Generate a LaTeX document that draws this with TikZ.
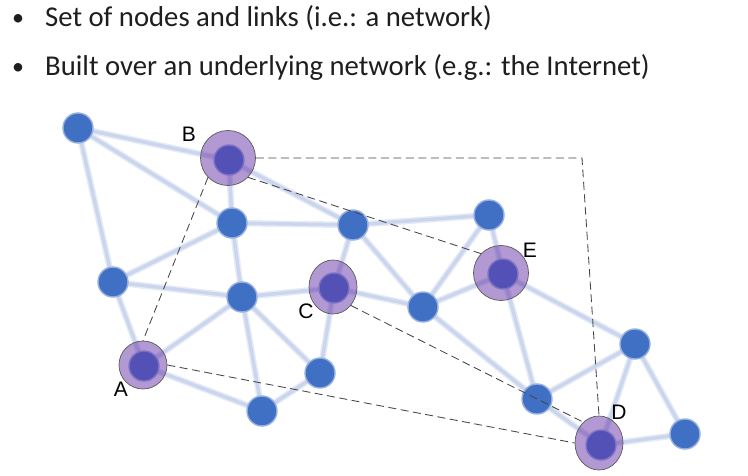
\documentclass[tikz,border=0pt]{standalone}
\usepackage{fontspec}
\setmainfont{Carlito}
\newfontfamily\arialf{Liberation Sans}
\usetikzlibrary{shapes.geometric}
\definecolor{edgec}{RGB}{203,213,237}
\definecolor{edgesoft}{RGB}{230,236,247}
\definecolor{nodeblue}{RGB}{64,112,196}
\definecolor{ringp}{RGB}{104,52,170}
\definecolor{ringline}{RGB}{90,90,90}
\definecolor{dashc}{RGB}{70,70,70}
\definecolor{txt}{RGB}{30,30,30}
\begin{document}
\begin{tikzpicture}[x=1pt,y=-1pt,
  linksoft/.style={draw=edgesoft,line width=6.5pt},
  link/.style={draw=edgec,line width=3.5pt},
  bnode/.style={circle,fill=nodeblue,minimum size=30pt,inner sep=0pt,draw=nodeblue!55!white,line width=1.4pt},
  ring/.style={ellipse,fill=ringp,fill opacity=0.5,draw=ringline,draw opacity=1,line width=0.7pt,inner sep=0pt},
  overlay/.style={dashc,line width=0.85pt,dash pattern=on 8pt off 4.5pt},
  lbl/.style={font=\arialf\fontsize{21}{23}\selectfont,text=black,inner sep=0pt},
  bullettext/.style={font=\fontsize{28.7}{32}\selectfont,text=txt,anchor=base west,inner sep=0pt},
  bulletmark/.style={font=\fontsize{24}{28}\selectfont,text=txt,anchor=base,inner sep=0pt}]
\useasboundingbox[fill=white] (0,0) rectangle (748,476);
% text
\node[bulletmark] (b1) at (18,26) {•};
\node[bullettext] (t1) at (45,27) {Set of nodes and links (i.e.: a network)};
\node[bulletmark] (b2) at (18,75) {•};
\node[bullettext] (t2) at (45,76) {Built over an underlying network (e.g.: the Internet)};
% node positions
\coordinate (n1) at (78,128);
\coordinate (pB) at (229,160);
\coordinate (n2) at (232,223);
\coordinate (n3) at (353,225);
\coordinate (n4) at (113,282);
\coordinate (n5) at (242,297);
\coordinate (pC) at (334,288);
\coordinate (pA) at (144,366);
\coordinate (n6) at (320,373);
\coordinate (n7) at (262,411);
\coordinate (n8) at (489,215);
\coordinate (pE) at (503,274);
\coordinate (n9) at (423,307);
\coordinate (n10) at (635,344);
\coordinate (n11) at (537,399);
\coordinate (pD) at (601,445);
\coordinate (n12) at (685,434);
% links
\foreach \a/\b in {n1/pB,n1/n2,n1/n4,pB/n2,pB/n3,n2/n3,n2/n4,n2/n5,n4/n5,n4/pA,
  n5/pC,n5/pA,n5/n7,n5/n6,pC/n6,pC/n3,pC/n9,n3/n9,n3/n8,n8/n9,n8/pE,n9/pE,
  n9/n11,pE/n11,pE/n10,n10/n11,n10/pD,n10/n12,n11/pD,pD/n12,pA/n7,n7/n6}
  \draw[linksoft] (\a) -- (\b);
\foreach \a/\b in {n1/pB,n1/n2,n1/n4,pB/n2,pB/n3,n2/n3,n2/n4,n2/n5,n4/n5,n4/pA,
  n5/pC,n5/pA,n5/n7,n5/n6,pC/n6,pC/n3,pC/n9,n3/n9,n3/n8,n8/n9,n8/pE,n9/pE,
  n9/n11,pE/n11,pE/n10,n10/n11,n10/pD,n10/n12,n11/pD,pD/n12,pA/n7,n7/n6}
  \draw[link] (\a) -- (\b);
% blue nodes
\foreach \n in {n1,n2,n3,n4,n5,n6,n7,n8,n9,n10,n11,n12,pA,pB,pC,pD,pE}
  \node[bnode] (b\n) at (\n) {};
% overlay rings
\node[ring,minimum width=55pt,minimum height=55pt] (B) at (228,158) {};
\node[ring,minimum width=48pt,minimum height=54pt] (C) at (333,287) {};
\node[ring,minimum width=48pt,minimum height=48pt] (A) at (143,365) {};
\node[ring,minimum width=55pt,minimum height=55pt] (E) at (501,273) {};
\node[ring,minimum width=48pt,minimum height=54pt] (D) at (599,443) {};
% labels
\node[lbl] (lB) at (189,134) {B};
\node[lbl] (lA) at (121,389) {A};
\node[lbl] (lC) at (306,311) {C};
\node[lbl] (lE) at (530,250) {E};
\node[lbl] (lD) at (619,412) {D};
% overlay links
\coordinate (corner) at (582,158);
\draw[overlay] (B.east) -- (corner) -- (D.north);
\draw[overlay] (B.-44) -- (E.136);
\draw[overlay] (B.224) -- (A.north);
\draw[overlay] (A.east) -- (D.west);
\draw[overlay] (C.-46) -- (D.127);
\end{tikzpicture}
\end{document}
